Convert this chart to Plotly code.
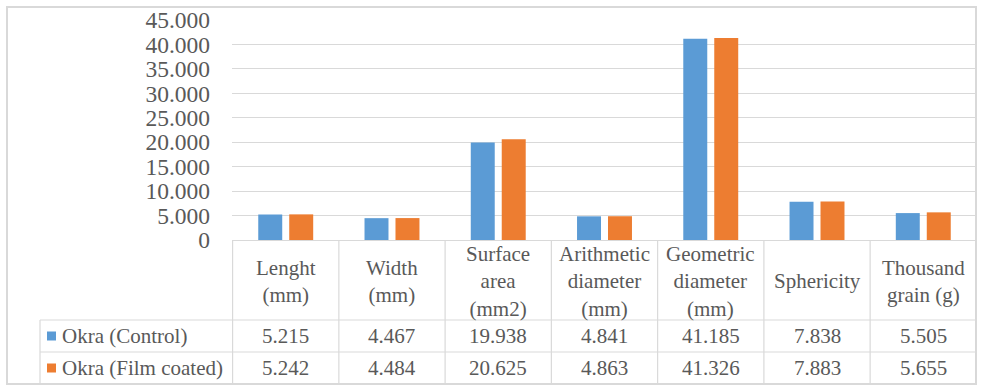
import plotly.graph_objects as go

# ---- data ----
categories = [
    "Lenght<br>(mm)",
    "Width<br>(mm)",
    "Surface<br>area<br>(mm2)",
    "Arithmetic<br>diameter<br>(mm)",
    "Geometric<br>diameter<br>(mm)",
    "Sphericity",
    "Thousand<br>grain (g)",
]
series_names = ["Okra (Control)", "Okra (Film coated)"]
control = [5.215, 4.467, 19.938, 4.841, 41.185, 7.838, 5.505]
film_coated = [5.242, 4.484, 20.625, 4.863, 41.326, 7.883, 5.655]
y_ticks = [0, 5, 10, 15, 20, 25, 30, 35, 40, 45]

# ---- style ----
W, H = 981, 385
PL, PR, PT, PB = 232, 4, 20, 145          # plot area margins (px)
PW, PH = W - PL - PR, H - PT - PB
BLUE, ORANGE = "#5B9BD5", "#ED7D31"
GRID = "#D9D9D9"
TXT = "#595959"
FONT = "Liberation Serif"
FS = 21
TICK_FS = 23.5


def px_x(px):
    return (px - PL) / PW


def px_y(py):
    return (H - PB - py) / PH


def txt_font(size=FS):
    return dict(family=FONT, size=size, color=TXT)


fig = go.Figure()
colors = [BLUE, ORANGE]
for name, vals, col in zip(series_names, [control, film_coated], colors):
    fig.add_trace(go.Bar(x=categories, y=vals, name=name, marker_color=col,
                         marker_line_width=0))

shapes = []
annotations = []

# outer chart border
shapes.append(dict(type="rect", xref="paper", yref="paper",
                   x0=px_x(7), x1=px_x(976), y0=px_y(384), y1=px_y(7),
                   line=dict(color=GRID, width=2), layer="below"))

# data table grid
row_tops = [240, 320, 352, 384]
n = len(categories)
for k in range(n + 1):
    shapes.append(dict(type="line", xref="x", yref="paper",
                       x0=k - 0.5, x1=k - 0.5, y0=px_y(240), y1=px_y(384),
                       line=dict(color=GRID, width=1.2)))
shapes.append(dict(type="line", xref="paper", yref="paper",
                   x0=px_x(40), x1=px_x(40), y0=px_y(320), y1=px_y(384),
                   line=dict(color=GRID, width=1.2)))
for py in row_tops[1:]:
    shapes.append(dict(type="line", xref="paper", yref="paper",
                       x0=px_x(40), x1=1, y0=px_y(py), y1=px_y(py),
                       line=dict(color=GRID, width=1.2)))

# header row: category labels
for i, cat in enumerate(categories):
    annotations.append(dict(x=i, y=px_y(281), xref="x", yref="paper",
                            text=cat, showarrow=False, xanchor="center",
                            yanchor="middle", align="center",
                            font=txt_font()))

# value rows with legend keys
row_centers = [336, 368]
for name, vals, col, rc in zip(series_names, [control, film_coated], colors, row_centers):
    shapes.append(dict(type="rect", xref="paper", yref="paper",
                       x0=px_x(47), x1=px_x(56), y0=px_y(rc + 4.5), y1=px_y(rc - 4.5),
                       fillcolor=col, line=dict(width=0)))
    annotations.append(dict(x=px_x(60), y=px_y(rc), xref="paper", yref="paper",
                            text=name, showarrow=False, xanchor="left",
                            yanchor="middle", font=txt_font()))
    for i, v in enumerate(vals):
        annotations.append(dict(x=i, y=px_y(rc), xref="x", yref="paper",
                                text=f"{v:.3f}", showarrow=False,
                                xanchor="center", yanchor="middle",
                                font=txt_font()))

fig.update_layout(
    width=W, height=H,
    margin=dict(l=PL, r=PR, t=PT, b=PB, pad=0),
    paper_bgcolor="white", plot_bgcolor="white",
    barmode="group", bargap=0.417, bargroupgap=0.226,
    showlegend=False,
    shapes=shapes, annotations=annotations,
)
fig.update_xaxes(showticklabels=False, showgrid=False, ticks="",
                 showline=True, linecolor=GRID, linewidth=1.2,
                 categoryorder="array", categoryarray=categories)
fig.update_yaxes(range=[0, 45], tickvals=y_ticks,
                 ticktext=["0" if v == 0 else f"{v:.3f}" for v in y_ticks],
                 showgrid=True, gridcolor=GRID, gridwidth=1.2,
                 zeroline=False, showline=False, ticks="",
                 ticklabelstandoff=21,
                 tickfont=txt_font(TICK_FS))

fig.write_html("out.html")
